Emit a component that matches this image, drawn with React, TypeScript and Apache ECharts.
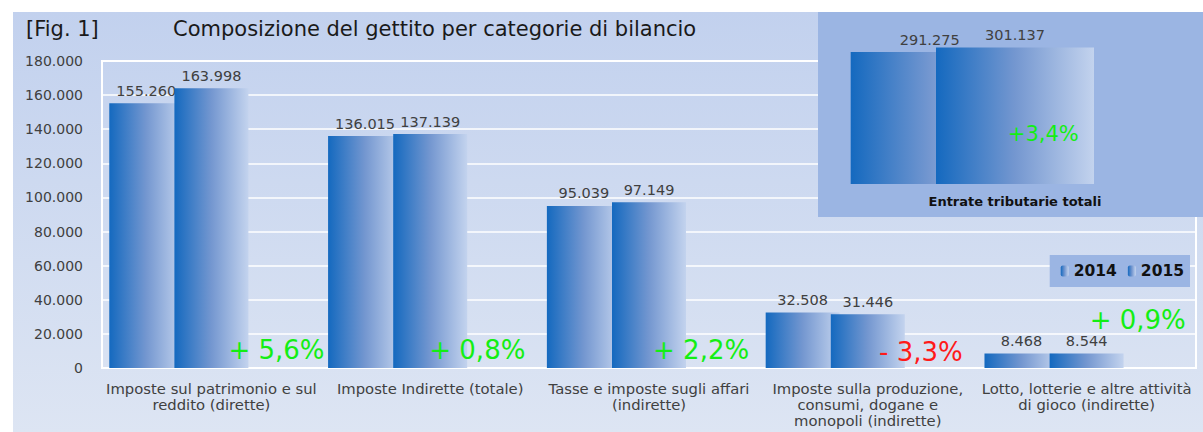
import React, { useEffect, useRef } from "react";
import * as echarts from "echarts";

const categories = [
  "Imposte sul patrimonio e sul\nreddito (dirette)",
  "Imposte Indirette (totale)",
  "Tasse e imposte sugli affari\n(indirette)",
  "Imposte sulla produzione,\nconsumi, dogane e\nmonopoli (indirette)",
  "Lotto, lotterie e altre attività\ndi gioco (indirette)",
];
const values2014 = [155260, 136015, 95039, 32508, 8468];
const values2015 = [163998, 137139, 97149, 31446, 8544];
const changeLabels = ["+ 5,6%", "+ 0,8%", "+ 2,2%", "- 3,3%", "+ 0,9%"];
const changePositive = [true, true, true, false, true];

const totalCategory = ["Entrate tributarie totali"];
const total2014 = [291275];
const total2015 = [301137];
const totalChange = ["+3,4%"];

const yTicks = { min: 0, max: 180000, interval: 20000 };

const FONT = "DejaVu Sans";
const GREEN = "#14ee14";
const RED = "#ff1a1a";

const fmt = (v: number) => String(Math.round(v)).replace(/\B(?=(\d{3})+(?!\d))/g, ".");

const barGrad = () => ({
  type: "linear",
  x: 0,
  y: 0,
  x2: 1,
  y2: 0,
  colorStops: [
    { offset: 0, color: "#1469bf" },
    { offset: 0.5, color: "#7497d0" },
    { offset: 1, color: "#c3d3ee" },
  ],
});

const changeOffsets: [number, number][] = [
  [0, 0],
  [-18, 0],
  [-13, 0],
  [-12, 2],
  [-14, -30],
];

export default function App() {
  const ref = useRef<HTMLDivElement>(null);
  useEffect(() => {
    document.body.style.margin = "0";
    const chart = echarts.init(ref.current!, null, { renderer: "svg" });
    const valueLabel = {
      show: true,
      position: "top",
      distance: 5,
      fontFamily: FONT,
      fontSize: 14.5,
      color: "#404040",
      formatter: (p: any) => fmt(p.value),
    };
    const option: any = {
      animation: false,
      textStyle: { fontFamily: FONT },
      graphic: [
        {
          type: "rect",
          z: -100,
          shape: { x: 13, y: 12, width: 1190, height: 420 },
          style: {
            fill: {
              type: "linear",
              x: 0,
              y: 0,
              x2: 0,
              y2: 1,
              colorStops: [
                { offset: 0, color: "#c2d1ee" },
                { offset: 1, color: "#dde5f3" },
              ],
            },
          },
        },
        {
          type: "rect",
          z: 5,
          shape: { x: 818, y: 12, width: 385, height: 205 },
          style: { fill: "#9bb5e3" },
        },
        {
          type: "text",
          z: 6,
          x: 26,
          y: 29,
          style: {
            text: "[Fig. 1]",
            font: `21px "${FONT}"`,
            fill: "#1a1a1a",
            verticalAlign: "middle",
          },
        },
        {
          type: "text",
          z: 6,
          x: 173,
          y: 29,
          style: {
            text: "Composizione del gettito per categorie di bilancio",
            font: `21px "${FONT}"`,
            fill: "#1a1a1a",
            verticalAlign: "middle",
          },
        },
      ],
      legend: {
        data: ["2014", "2015"],
        right: 13,
        top: 255,
        backgroundColor: "#9bb5e3",
        padding: [8, 6, 8, 11],
        itemWidth: 8,
        itemHeight: 11,
        itemGap: 11,
        textStyle: { fontFamily: FONT, fontSize: 15.5, fontWeight: "bold", color: "#111" },
      },
      grid: [
        {
          left: 102,
          top: 61,
          width: 1094,
          height: 307,
          show: true,
          borderColor: "#ffffff",
          borderWidth: 2,
          backgroundColor: "transparent",
        },
        { left: 830, top: 39, width: 370, height: 145 },
      ],
      xAxis: [
        {
          type: "category",
          gridIndex: 0,
          data: categories,
          axisLine: { show: true, lineStyle: { color: "#ffffff", width: 2 } },
          axisTick: { show: false },
          axisLabel: {
            interval: 0,
            fontFamily: FONT,
            fontSize: 14.8,
            color: "#404040",
            lineHeight: 16,
            margin: 12,
          },
        },
        {
          type: "category",
          gridIndex: 1,
          z: 10,
          data: totalCategory,
          axisLine: { show: false },
          axisTick: { show: false },
          axisLabel: {
            fontFamily: FONT,
            fontSize: 13,
            fontWeight: "bold",
            color: "#111",
            margin: 11,
          },
        },
      ],
      yAxis: [
        {
          type: "value",
          gridIndex: 0,
          min: yTicks.min,
          max: yTicks.max,
          interval: yTicks.interval,
          axisLine: { show: false },
          axisTick: { show: false },
          splitLine: { show: true, lineStyle: { color: "#ffffff", width: 1.5 } },
          axisLabel: {
            fontFamily: FONT,
            fontSize: 14,
            color: "#404040",
            margin: 19,
            formatter: (v: number) => fmt(v),
          },
        },
        {
          type: "value",
          gridIndex: 1,
          min: 0,
          max: 320000,
          show: false,
        },
      ],
      series: [
        {
          name: "2014",
          type: "bar",
          xAxisIndex: 0,
          yAxisIndex: 0,
          data: values2014,
          barWidth: 74,
          barGap: "-12%",
          itemStyle: { color: barGrad() },
          label: valueLabel,
          z: 2,
        },
        {
          name: "2015",
          type: "bar",
          xAxisIndex: 0,
          yAxisIndex: 0,
          data: values2015,
          barWidth: 74,
          barGap: "-12%",
          itemStyle: { color: barGrad() },
          label: valueLabel,
          z: 3,
        },
        {
          name: "Variazione",
          type: "bar",
          xAxisIndex: 0,
          yAxisIndex: 0,
          data: changeLabels.map((t, i) => ({
            value: 0,
            label: {
              show: true,
              position: "top",
              distance: 5,
              offset: changeOffsets[i],
              formatter: t,
              fontFamily: FONT,
              fontSize: 26,
              color: changePositive[i] ? GREEN : RED,
            },
          })),
          barWidth: 74,
          barGap: "-12%",
          itemStyle: { color: "transparent" },
          z: 4,
        },
        {
          name: "2014",
          type: "bar",
          xAxisIndex: 1,
          yAxisIndex: 1,
          data: total2014,
          barWidth: 158,
          barGap: "-46%",
          itemStyle: { color: barGrad() },
          label: valueLabel,
          z: 10,
        },
        {
          name: "2015",
          type: "bar",
          xAxisIndex: 1,
          yAxisIndex: 1,
          data: total2015,
          barWidth: 158,
          barGap: "-46%",
          itemStyle: { color: barGrad() },
          label: valueLabel,
          z: 11,
        },
        {
          name: "Variazione totale",
          type: "bar",
          xAxisIndex: 1,
          yAxisIndex: 1,
          data: totalChange.map((t) => ({
            value: 0,
            label: {
              show: true,
              position: "top",
              distance: 5,
              offset: [-57, -35],
              formatter: t,
              fontFamily: FONT,
              fontSize: 21,
              color: GREEN,
            },
          })),
          barWidth: 158,
          barGap: "-46%",
          itemStyle: { color: "transparent" },
          z: 12,
        },
      ],
    };
    chart.setOption(option);
    return () => chart.dispose();
  }, []);
  return <div ref={ref} style={{ width: 1203, height: 432 }} />;
}
